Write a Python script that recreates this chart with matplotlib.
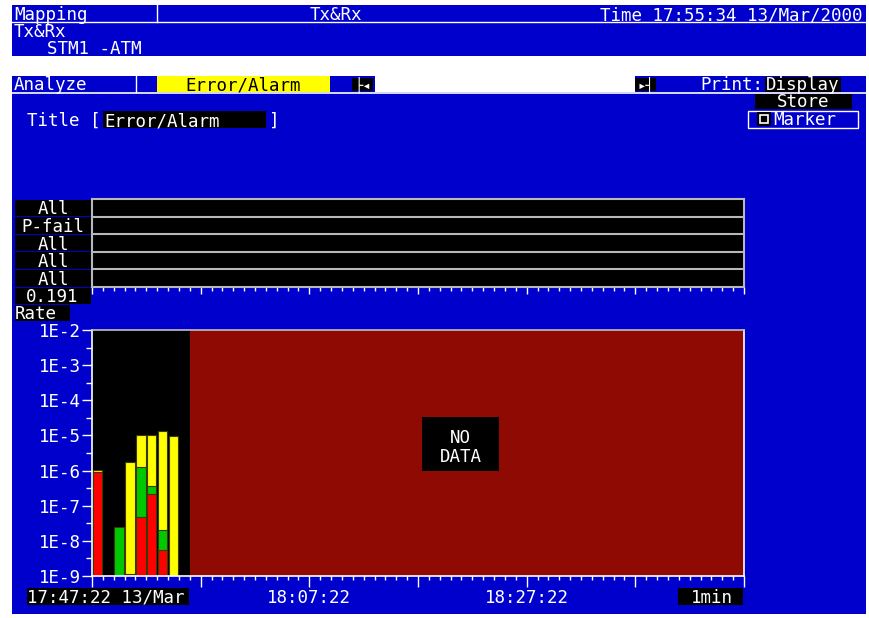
import numpy as np
import matplotlib
matplotlib.use("Agg")
import matplotlib.pyplot as plt
from matplotlib.patches import Rectangle
from matplotlib.ticker import FixedLocator, MultipleLocator

# ---- data ----
bar_minutes = [0, 2, 3, 4, 5, 6, 7]
yellow_top = [1.04e-6, np.nan, 1.8e-6, 1.0e-5, 1.0e-5, 1.35e-5, 0.95e-5]
green_top = [np.nan, 2.4e-8, np.nan, 1.3e-6, 3.6e-7, 2.1e-8, np.nan]
red_top = [0.93e-6, np.nan, 1.15e-9, 4.7e-8, 2.2e-7, 5.5e-9, np.nan]

rate_ticks = [1e-2, 1e-3, 1e-4, 1e-5, 1e-6, 1e-7, 1e-8, 1e-9]
rate_labels = ["1E-2", "1E-3", "1E-4", "1E-5", "1E-6", "1E-7", "1E-8", "1E-9"]
time_ticks = [20, 40]
time_labels = ["18:07:22", "18:27:22"]
strip_labels = ["All", "P-fail", "All", "All", "All"]
data_minutes = 9      # minutes that have data
span_minutes = 60     # width of the window

BLUE = "#0000cc"
FONT = "DejaVu Sans Mono"
FS = 12.6
W, H = 869, 618

fig = plt.figure(figsize=(W / 100, H / 100), dpi=100, facecolor="white")

bg = fig.add_axes([0, 0, 1, 1], zorder=0)
bg.set_xlim(0, W)
bg.set_ylim(H, 0)
bg.axis("off")


def box(ax, x0, y0, x1, y1, fc, ec="none", lw=0):
    ax.add_patch(Rectangle((x0, y0), x1 - x0, y1 - y0, facecolor=fc,
                           edgecolor=ec, lw=lw))


def txt(ax, x, y, s, color="white", ha="left", size=FS):
    ax.text(x, y, s, color=color, ha=ha, va="baseline", fontsize=size,
            family=FONT)


def px_axes(x0, y0, x1, y1, z=1):
    return fig.add_axes([x0 / W, 1 - y1 / H, (x1 - x0) / W, (y1 - y0) / H],
                        zorder=z)


# screen background
box(bg, 12, 5, 866, 614, BLUE)
box(bg, 12, 56, 866, 76, "white")
bg.plot([12, 866], [22, 22], color="white", lw=1)
bg.plot([12, 866], [92.5, 92.5], color="white", lw=1.2)
bg.plot([157, 157], [5, 22], color="white", lw=1)

# header
txt(bg, 14, 20, "Mapping")
txt(bg, 310, 20, "Tx&Rx")
txt(bg, 862, 20, "Time 17:55:34 13/Mar/2000", ha="right")
txt(bg, 14, 37, "Tx&Rx")
txt(bg, 47, 54, "STM1 -ATM")

# menu row
txt(bg, 14, 90, "Analyze")
bg.plot([136, 136], [76, 92], color="white", lw=1)
box(bg, 157, 76, 330, 92, "#ffff00")
txt(bg, 243, 90, "Error/Alarm", color="black", ha="center")
box(bg, 375, 76, 635, 92, "white")
box(bg, 352, 78, 373, 91, "black")
txt(bg, 362.5, 89, "├◂", ha="center", size=10)
box(bg, 635, 78, 656, 91, "black")
txt(bg, 645.5, 89, "▸┤", ha="center", size=10)
txt(bg, 700, 90, "Print:")
box(bg, 765, 77, 841, 92, "black")
txt(bg, 766, 90, "Display")

# store / marker
box(bg, 755, 94, 852, 109, "black")
txt(bg, 803, 107, "Store", ha="center")
box(bg, 748, 110.5, 858, 128, "none", ec="white", lw=1)
box(bg, 757, 112, 771, 126, "black")
box(bg, 760, 115, 768, 123, "none", ec="white", lw=1.2)
txt(bg, 773, 125, "Marker")

# title
txt(bg, 27, 126, "Title [")
box(bg, 103, 111, 266, 128, "black")
txt(bg, 104, 126, "Error/Alarm")
txt(bg, 268, 126, "]")

# strip labels
strip_top, strip_bot = 199, 287
row_h = (strip_bot - strip_top) / len(strip_labels)
for i, lab in enumerate(strip_labels):
    y0 = strip_top + i * row_h
    box(bg, 15, y0 + 0.5, 91, y0 + row_h - 0.5, "black")
    txt(bg, 53, y0 + 15.5, lab, ha="center")
box(bg, 15, 288, 91, 304, "black")
txt(bg, 52, 302, "0.191", ha="center")
box(bg, 15, 305, 70, 321, "black")
txt(bg, 15, 319, "Rate")

# bottom labels
box(bg, 27, 588, 189, 605, "black")
txt(bg, 27, 603, "17:47:22 13/Mar")
box(bg, 678, 588, 743, 605, "black")
txt(bg, 733, 603, "1min", ha="right")

# ---- strip chart ----
sa = px_axes(92, strip_top, 744, strip_bot)
sa.set_facecolor("black")
sa.set_xlim(0, span_minutes)
sa.set_ylim(0, len(strip_labels))
for k in range(1, len(strip_labels)):
    sa.axhline(k, color="#b8b8b8", lw=1.5)
for s in sa.spines.values():
    s.set_color("#b8b8b8")
    s.set_linewidth(1.5)
sa.set_yticks([])
sa.xaxis.set_major_locator(MultipleLocator(10))
sa.xaxis.set_minor_locator(MultipleLocator(1))
sa.tick_params(axis="x", which="major", direction="out", length=5,
               width=1, color="white", labelbottom=False)
sa.tick_params(axis="x", which="minor", direction="out", length=2.6,
               width=1, color="white")

# ---- rate chart ----
ax = px_axes(92, 330, 744, 576)
ax.set_facecolor("black")
ax.set_yscale("log")

# "no data" part of the window
ax.axvspan(data_minutes, span_minutes, color="#8e0a02", lw=0, zorder=0.5)

xs = np.array(bar_minutes) + 0.5
base = 1e-9
for tops, col in [(yellow_top, "#ffff00"), (green_top, "#00c800"),
                  (red_top, "#ff0000")]:
    t = np.array(tops)
    ok = ~np.isnan(t)
    ax.bar(xs[ok], t[ok] - base, bottom=base, width=0.86, color=col,
           edgecolor="#3a3a00", lw=0.8)

ax.set_xlim(0, span_minutes)
ax.set_ylim(1e-9, 1e-2)

for s in ax.spines.values():
    s.set_color("white")
    s.set_linewidth(1.2)
ax.spines["top"].set_color("#c0c0c0")

ax.yaxis.set_major_locator(FixedLocator(rate_ticks))
ax.yaxis.set_minor_locator(FixedLocator([10 ** (-k - 0.5) for k in range(2, 9)]))
ax.set_yticklabels(rate_labels)
ax.tick_params(axis="y", which="major", direction="out", length=7.2, width=1,
               color="white", labelcolor="white", labelsize=FS, pad=0.5)
ax.tick_params(axis="y", which="minor", direction="out", length=4.3, width=1,
               color="white", labelleft=False)
for lab in ax.get_yticklabels():
    lab.set_family(FONT)

ax.xaxis.set_major_locator(MultipleLocator(10))
ax.xaxis.set_minor_locator(MultipleLocator(1))
ax.set_xticklabels([])
ax.tick_params(axis="x", which="major", direction="out", length=8, width=1,
               color="white")
ax.tick_params(axis="x", which="minor", direction="out", length=3, width=1,
               color="white")
for t, lab in zip(time_ticks, time_labels):
    ax.annotate(lab, xy=(t, 0), xycoords=("data", "axes fraction"),
                xytext=(0, -19.5), textcoords="offset points", ha="center",
                va="baseline", color="white", fontsize=FS, family=FONT)

# ---- NO DATA label on top ----
ov = fig.add_axes([0, 0, 1, 1], zorder=5)
ov.set_xlim(0, W)
ov.set_ylim(H, 0)
ov.axis("off")
ov.patch.set_alpha(0)
box(ov, 422, 417, 499, 471, "black")
txt(ov, 460.5, 443, "NO", ha="center")
txt(ov, 460.5, 462, "DATA", ha="center")

fig.savefig("out.png", dpi=100, facecolor="white")
